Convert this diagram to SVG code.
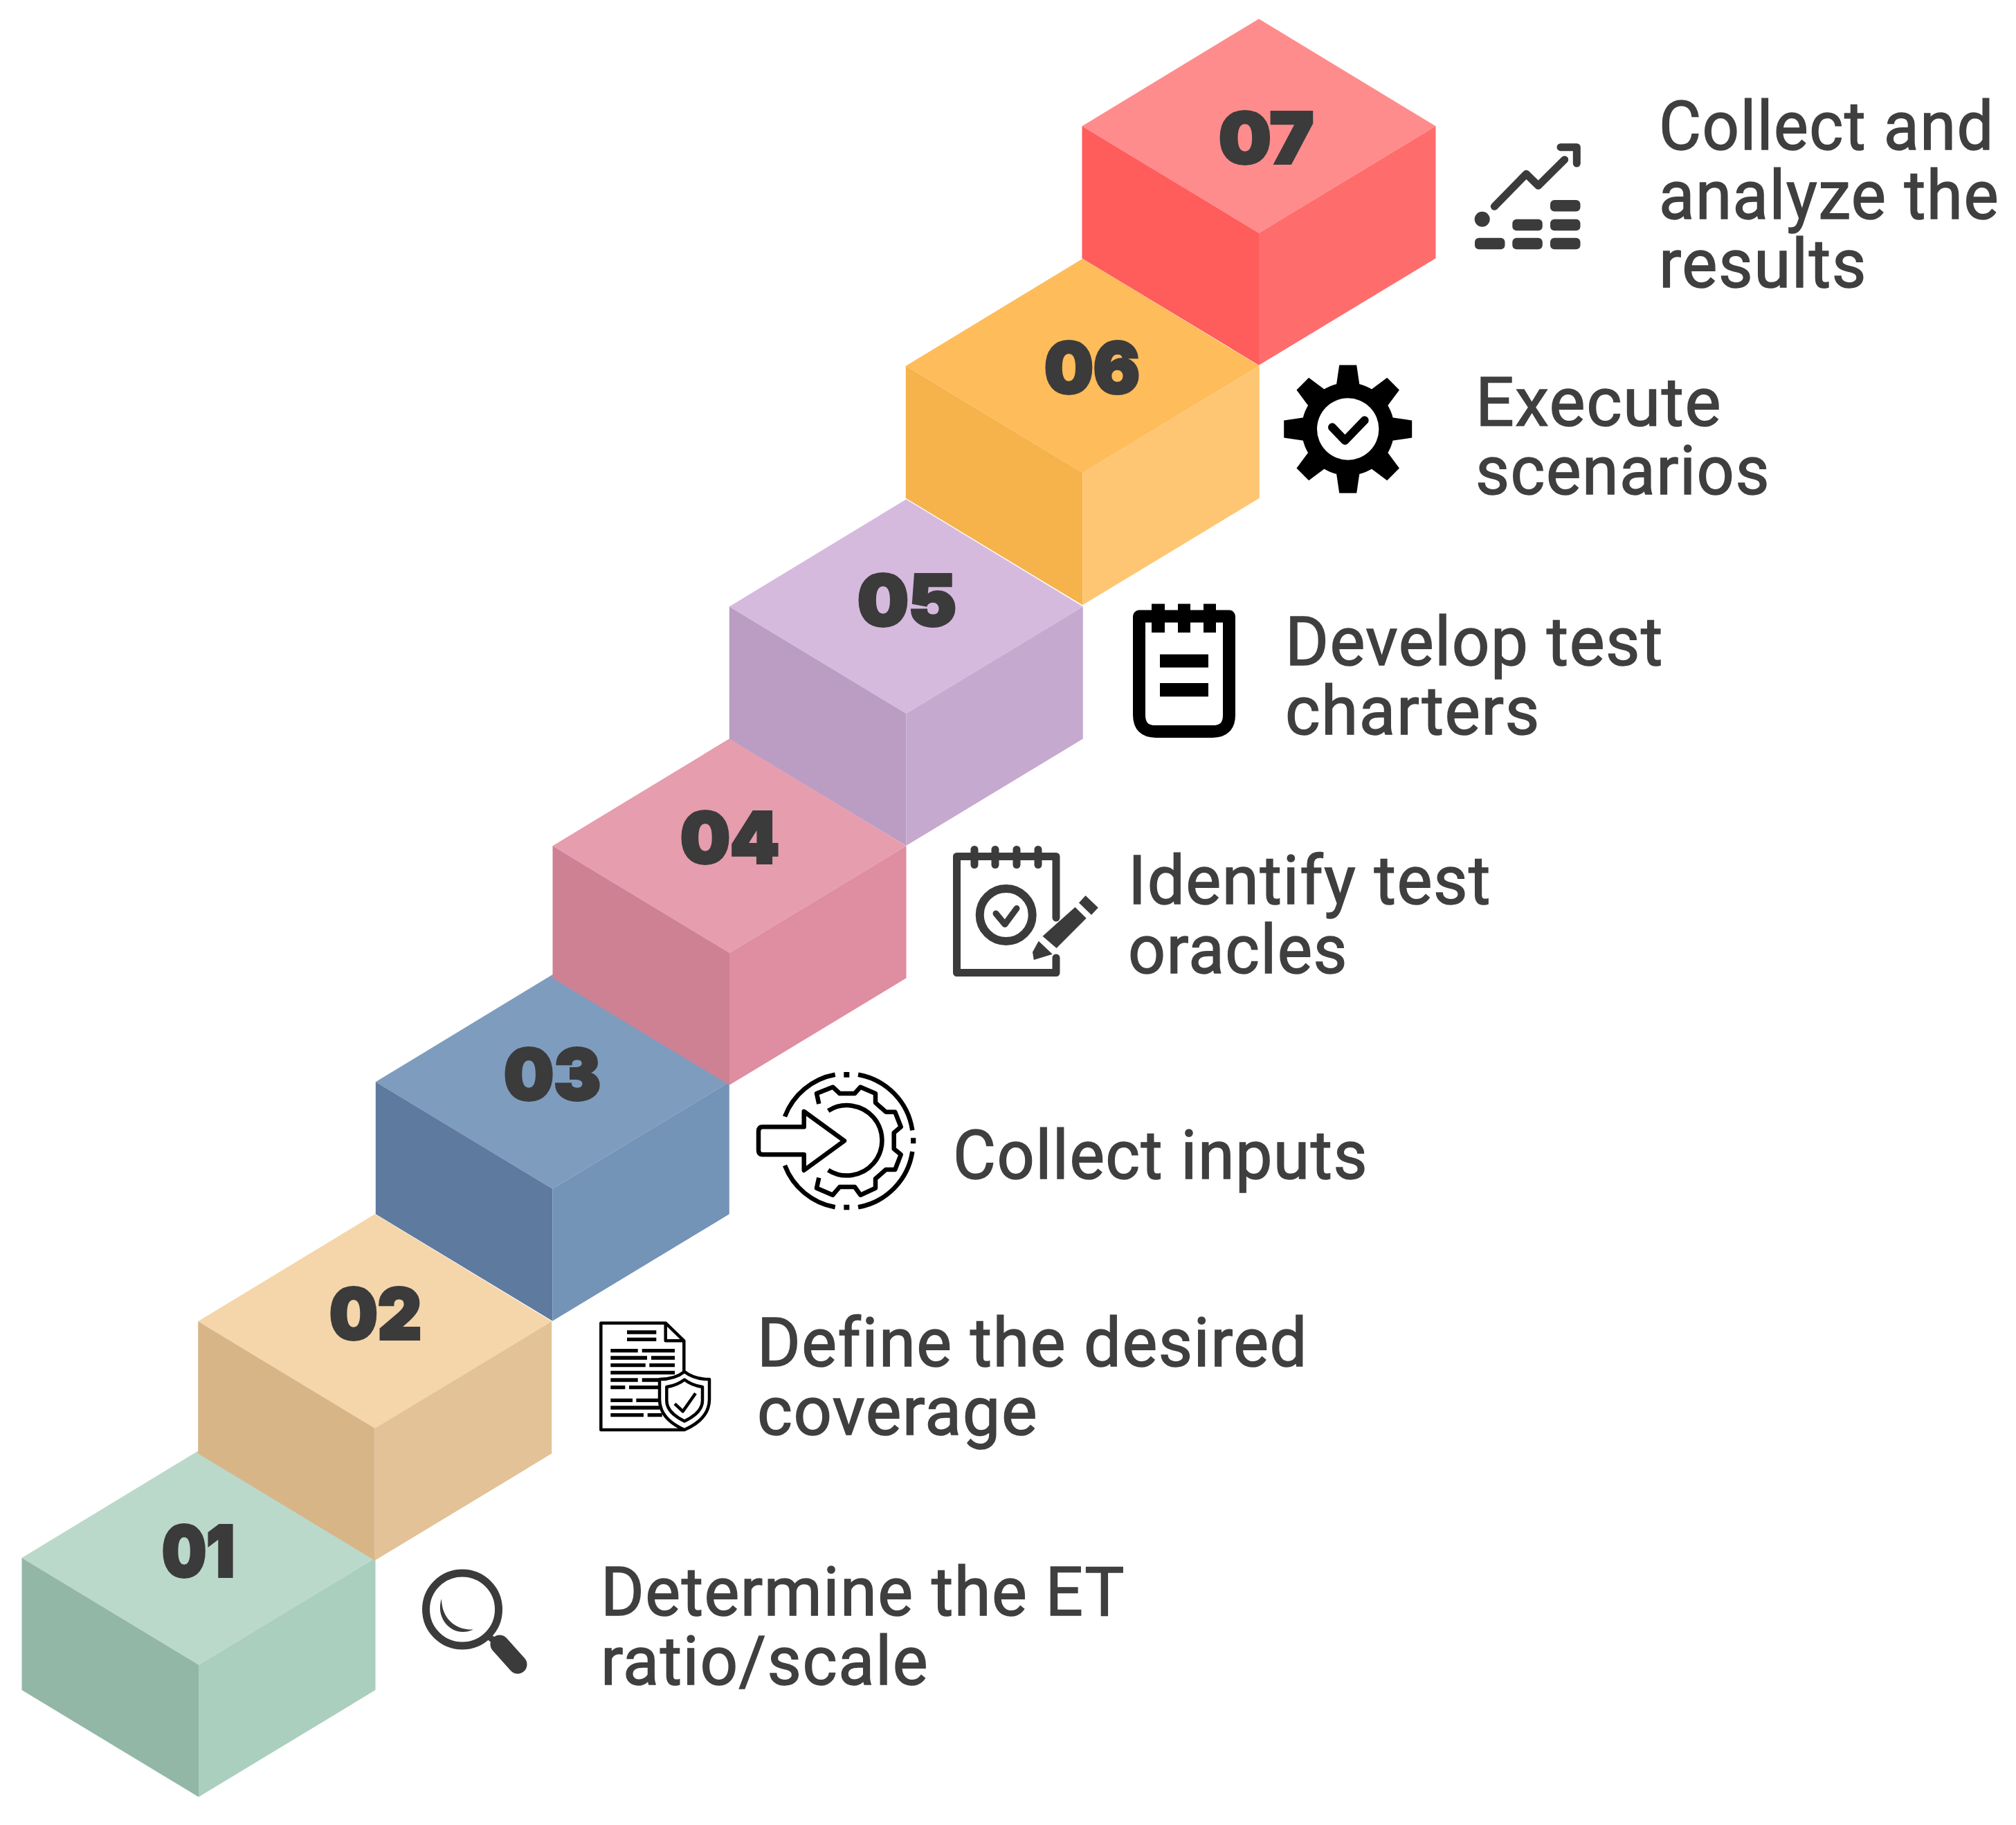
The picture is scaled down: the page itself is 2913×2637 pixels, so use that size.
<svg xmlns="http://www.w3.org/2000/svg" width="2913" height="2637" viewBox="0 0 2913 2637">
<style>
.num{font-family:"Inter","Liberation Sans",sans-serif;font-weight:900;font-size:102px;fill:#3b3b3b;stroke:#3b3b3b;stroke-width:4px}
.lbl{font-family:"Roboto","Liberation Sans",sans-serif;font-weight:400;font-size:98px;fill:#3f3f3f;stroke:#3f3f3f;stroke-width:1.500px;letter-spacing:1.500px}
.dk{fill:#3b3b3b}
.sd{fill:none;stroke:#3b3b3b;stroke-linecap:round;stroke-linejoin:round}
.bk{fill:none;stroke:#000;stroke-linejoin:round}
.bl{fill:#000}
</style>
<defs>
<polygon id="faceTop" points="0,0 255.5,155 0,309.500 -255.500,155"/>
<polygon id="faceLeft" points="-255.500,155 0,309.500 0,500.500 -255.500,346"/>
<polygon id="faceRight" points="255.500,155 255.500,346 0,500.500 0,309.500"/>
<rect id="barA" width="43.500" height="16.500" rx="6"/>
<polygon id="tooth" points="-12.500,-92.500 12.500,-92.500 17,-62 -17,-62"/>
<rect id="ring" x="-5.500" y="-16.500" width="11" height="33" rx="5.500"/>
</defs>
<rect width="2913" height="2637" fill="#ffffff"/>

<g id="step-01">
<g transform="translate(287,2096)"><use href="#faceTop" fill="#BBD9CB"/><use href="#faceLeft" fill="#93B7A7"/><use href="#faceRight" fill="#ABCFBE"/></g>
<text class="num" x="234" y="2278" textLength="105" lengthAdjust="spacingAndGlyphs">01</text>
<g id="icon-01">
<circle cx="668" cy="2325.500" r="52.500" fill="none" stroke="#3b3b3b" stroke-width="11"/>
<path class="dk" d="M638 2310C628 2340 655 2368 684 2354.500C660 2356 638 2340 638 2310Z"/>
<path class="sd" d="M708 2366L720 2376" stroke-width="9"/>
<path class="sd" d="M722 2376L748 2405" stroke-width="27"/>
</g>
<text class="lbl" x="868" y="2334" textLength="758" lengthAdjust="spacingAndGlyphs">Determine the ET</text>
<text class="lbl" x="868" y="2434" textLength="474" lengthAdjust="spacingAndGlyphs">ratio/scale</text>
</g>

<g id="step-02">
<g transform="translate(541.700,1754.300)"><use href="#faceTop" fill="#F5D5AA"/><use href="#faceLeft" fill="#D8B587"/><use href="#faceRight" fill="#E2C296"/></g>
<text class="num" x="476" y="1935" textLength="133" lengthAdjust="spacingAndGlyphs">02</text>
<g id="icon-02">
<path class="bk" stroke-width="4.500" d="M988.300 1983V1937.300L961.700 1911.700H868.300V2066H988.300M961.700 1911.700V1937.300H988.300"/>
<path class="bk" stroke-width="5.300" d="M906 1925H948.300M906 1935.300H948.300M882.300 1951.700H921.700M927.700 1951.700H975M882.300 1962H935M941 1962H975M882.300 1972.700H932.700M938.300 1972.700H975M882.300 1983.300H975M882.300 1994H921.700M927.700 1994H953M882.300 2004.700H903.300M909 2004.700H953M882.300 2023.300H914M919.300 2023.300H953M882.300 2034H953M882.300 2044.700H930M935.700 2044.700H956.700"/>
<path fill="#fff" stroke="#000" stroke-width="4.500" stroke-linejoin="round" d="M989 1982Q1003 1993 1025 1993V2022Q1025 2050 989 2066Q953 2050 953 2022V1993Q975 1993 989 1982Z"/>
<path class="bk" stroke-width="4.500" d="M989 1993.500Q1000 2002 1015 2004V2024Q1015 2041 989 2053.500Q963.300 2041 963.300 2024V2004Q978 2002 989 1993.500Z"/>
<path class="bk" stroke-width="4.500" d="M975 2028.300L986.700 2039.300L1005 2013.300"/>
</g>
<text class="lbl" x="1094" y="1974" textLength="796" lengthAdjust="spacingAndGlyphs">Define the desired</text>
<text class="lbl" x="1094" y="2073" textLength="406" lengthAdjust="spacingAndGlyphs">coverage</text>
</g>

<g id="step-03">
<g transform="translate(798.300,1408.300)"><use href="#faceTop" fill="#7E9CBE"/><use href="#faceLeft" fill="#5E7A9E"/><use href="#faceRight" fill="#7393B7"/></g>
<text class="num" x="728" y="1589" textLength="140" lengthAdjust="spacingAndGlyphs">03</text>
<g id="icon-03">
<path class="bk" stroke-width="6.500" d="M1134 1613.300A96 96 0 0 1 1206.700 1552.700M1240 1552.700A96 96 0 0 1 1318.300 1633.300M1318.300 1664A96 96 0 0 1 1240 1744.300M1206.700 1744.300A96 96 0 0 1 1134 1684"/>
<path class="bl" d="M1219.300 1549h8v7.700h-8zM1219.300 1740.700h8v7.600h-8zM1316 1644.300h7.300v8h-7.300z"/>
<path class="bk" stroke-width="6.500" d="M1102 1628.300H1161.700V1606L1220 1648.300L1161.700 1691V1668.300H1102Q1096 1668.300 1096 1662V1635Q1096 1628.300 1102 1628.300Z"/>
<path class="bk" stroke-width="6.500" d="M1196.700 1605A50.700 50.700 0 1 1 1196.700 1690.700"/>
<path class="bk" stroke-width="6.500" d="M1183.300 1595L1180 1580L1203.300 1570.700L1213.300 1580H1235L1243.300 1570.700L1265 1580V1593.300L1280 1606.700H1293.300L1301.700 1628.300L1291.700 1636.700V1660L1301.700 1668.300L1293.300 1690H1280L1265 1703.300V1716.700L1243.300 1726.700L1235 1715H1213.300L1203.300 1726.700L1180 1716.700L1183.300 1701.700"/>
</g>
<text class="lbl" x="1377" y="1703" textLength="600" lengthAdjust="spacingAndGlyphs">Collect inputs</text>
</g>

<g id="step-04">
<g transform="translate(1054,1067.300)"><use href="#faceTop" fill="#E69DAD"/><use href="#faceLeft" fill="#CF8194"/><use href="#faceRight" fill="#DF8DA1"/></g>
<text class="num" x="983" y="1247" textLength="143" lengthAdjust="spacingAndGlyphs">04</text>
<g id="icon-04">
<path class="sd" stroke-width="11" d="M1526 1326V1237.500H1382.500V1405.500H1526V1384"/>
<use href="#ring" x="1408" y="1238.500" class="dk"/><use href="#ring" x="1438" y="1238.500" class="dk"/><use href="#ring" x="1469" y="1238.500" class="dk"/><use href="#ring" x="1500" y="1238.500" class="dk"/>
<circle cx="1453.700" cy="1322" r="38" fill="none" stroke="#3b3b3b" stroke-width="12"/>
<path class="sd" stroke-width="9" d="M1439 1320L1452 1335.600L1469 1312.600"/>
<path class="dk" d="M1506.500 1352.800L1553.500 1310.700L1569.700 1326.800L1526.600 1370ZM1568.500 1294L1586.800 1311.400L1577 1322L1559 1304.600ZM1500.700 1359.700L1520.800 1378.800L1493.800 1387L1492 1375.800Z"/>
</g>
<text class="lbl" x="1630" y="1306" textLength="525" lengthAdjust="spacingAndGlyphs">Identify test</text>
<text class="lbl" x="1630" y="1406" textLength="318" lengthAdjust="spacingAndGlyphs">oracles</text>
</g>

<g id="step-05">
<g transform="translate(1309.300,721.500)"><use href="#faceTop" fill="#D5BADE"/><use href="#faceLeft" fill="#BB9CC3"/><use href="#faceRight" fill="#C6A9CF"/></g>
<text class="num" x="1239" y="904" textLength="143" lengthAdjust="spacingAndGlyphs">05</text>
<g id="icon-05">
<path class="bk" stroke-width="18" d="M1646 890.500H1776V1033Q1776 1057 1752 1057H1670Q1646 1057 1646 1033Z"/>
<path class="bl" d="M1664 872.500h19v41.500h-19zM1702 872.500h18v41.500h-18zM1739 872.500h18v41.500h-18zM1676 945.600h70v18.800h-70zM1676 987h70v19.500h-70z"/>
</g>
<text class="lbl" x="1857" y="961" textLength="547" lengthAdjust="spacingAndGlyphs">Develop test</text>
<text class="lbl" x="1857" y="1061" textLength="369" lengthAdjust="spacingAndGlyphs">charters</text>
</g>

<g id="step-06">
<g transform="translate(1564.300,373.800)"><use href="#faceTop" fill="#FEBC5B"/><use href="#faceLeft" fill="#F6B24B"/><use href="#faceRight" fill="#FEC673"/></g>
<text class="num" x="1509" y="568" textLength="138" lengthAdjust="spacingAndGlyphs">06</text>
<g id="icon-06" transform="translate(1947.700,620)">
<circle r="67" fill="#000"/>
<use href="#tooth" class="bl"/><use href="#tooth" class="bl" transform="rotate(45)"/><use href="#tooth" class="bl" transform="rotate(90)"/><use href="#tooth" class="bl" transform="rotate(135)"/><use href="#tooth" class="bl" transform="rotate(180)"/><use href="#tooth" class="bl" transform="rotate(225)"/><use href="#tooth" class="bl" transform="rotate(270)"/><use href="#tooth" class="bl" transform="rotate(315)"/>
<circle r="44.700" fill="#fff"/>
<path fill="none" stroke="#000" stroke-width="12" stroke-linecap="round" stroke-linejoin="round" d="M-22.700 -2.700L-4.300 16.700L24 -12.700"/>
</g>
<text class="lbl" x="2132" y="615" textLength="356" lengthAdjust="spacingAndGlyphs">Execute</text>
<text class="lbl" x="2132" y="714" textLength="426" lengthAdjust="spacingAndGlyphs">scenarios</text>
</g>

<g id="step-07">
<g transform="translate(1819,27.200)"><use href="#faceTop" fill="#FF8C8C"/><use href="#faceLeft" fill="#FF5C5C"/><use href="#faceRight" fill="#FF6C6C"/></g>
<text class="num" x="1761" y="236" textLength="137" lengthAdjust="spacingAndGlyphs">07</text>
<g id="icon-07">
<circle class="dk" cx="2141.700" cy="316.700" r="11"/>
<path class="sd" stroke-width="11" d="M2159.300 298.300L2205.300 251.300L2222.700 268.300L2260.700 230.700M2255 212.700H2278.300V236"/>
<use href="#barA" class="dk" x="2131" y="343.700"/><use href="#barA" class="dk" x="2185.300" y="343.700"/><use href="#barA" class="dk" x="2240" y="343.700"/>
<use href="#barA" class="dk" x="2185.300" y="316.700"/><use href="#barA" class="dk" x="2240" y="316.700"/>
<use href="#barA" class="dk" x="2240" y="289"/>
</g>
<text class="lbl" x="2397" y="216" textLength="485" lengthAdjust="spacingAndGlyphs">Collect and</text>
<text class="lbl" x="2397" y="316" textLength="492" lengthAdjust="spacingAndGlyphs">analyze the</text>
<text class="lbl" x="2397" y="415" textLength="301" lengthAdjust="spacingAndGlyphs">results</text>
</g>
</svg>
